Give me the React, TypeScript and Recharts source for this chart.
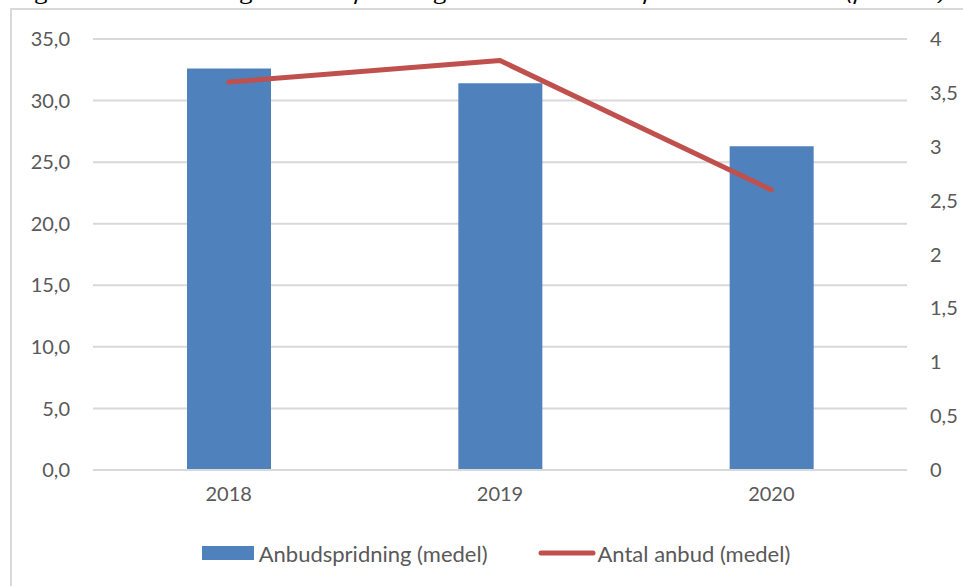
import React from 'react';
import { ComposedChart, Bar, Line, XAxis, YAxis, CartesianGrid, Legend } from 'recharts';

const categories = ['2018', '2019', '2020'];
const spreadValues = [32.6, 31.4, 26.3];
const bidValues = [3.6, 3.8, 2.6];
const leftTicks = [0, 5, 10, 15, 20, 25, 30, 35];
const rightTicks = [0, 0.5, 1, 1.5, 2, 2.5, 3, 3.5, 4];
const seriesNames = ['Anbudspridning (medel)', 'Antal anbud (medel)'];
const titleText = 'Figur 6 Genomsnittlig anbudsspridning och antal anbud per år 2018–2020 (procent)';

const data = categories.map((c, i) => ({ year: c, spread: spreadValues[i], bids: bidValues[i] }));

const FONT = 'Lato, "Open Sans", sans-serif';
const TEXT = '#595959';

const fmtLeft = (v: number) => v.toFixed(1).replace('.', ',');
const fmtRight = (v: number) => String(v).replace('.', ',');

const LegendContent = (props: any) => {
  const payload = props.payload || [];
  return (
    <div style={{ display: 'flex', justifyContent: 'center', alignItems: 'center', height: 30, fontFamily: FONT, fontSize: 22, color: TEXT }}>
      {payload.map((p: any, i: number) => (
        <div key={i} style={{ display: 'flex', alignItems: 'center', marginRight: i === 0 ? 50 : 0 }}>
          {p.type === 'rect' ? (
            <svg width={52} height={16} style={{ marginRight: 5 }}>
              <rect x={0} y={1} width={52} height={14} fill={p.color} />
            </svg>
          ) : (
            <svg width={58} height={16} style={{ marginRight: 2 }}>
              <line x1={3} y1={8} x2={55} y2={8} stroke={p.color} strokeWidth={5} strokeLinecap="round" />
            </svg>
          )}
          <span>{p.value}</span>
        </div>
      ))}
    </div>
  );
};

export default function App() {
  return (
    <div style={{ position: 'absolute', left: 0, top: 0, width: 963, height: 586, overflow: 'hidden', background: '#fff' }}>
      <svg width={963} height={20} style={{ position: 'absolute', left: 0, top: 0 }}>
        <text x={18} y={0} fontFamily='"Open Sans", sans-serif' fontStyle="italic" fontWeight={400} fontSize={18} fill="#000" textLength={928} lengthAdjust="spacingAndGlyphs">
          {titleText}
        </text>
      </svg>
      <div style={{ position: 'absolute', left: 10, top: 8, width: 1000, height: 620, border: '2px solid #D9D9D9', boxSizing: 'border-box' }} />
      <div style={{ position: 'absolute', left: 0, top: 0 }}>
        <ComposedChart
          width={963}
          height={586}
          data={data}
          margin={{ top: 39, right: 0, left: 0, bottom: 36 }}
          barCategoryGap={0}
        >
          <CartesianGrid vertical={false} stroke="#D9D9D9" strokeWidth={2} yAxisId="left" />
          <XAxis
            dataKey="year"
            height={50}
            tickSize={0}
            tickMargin={17}
            tickLine={false}
            axisLine={{ stroke: '#D9D9D9', strokeWidth: 2 }}
            tick={{ fill: TEXT, fontSize: 20, fontFamily: FONT }}
          />
          <YAxis
            yAxisId="left"
            orientation="left"
            width={93}
            domain={[0, 35]}
            ticks={leftTicks}
            tickFormatter={fmtLeft}
            tickSize={0}
            tickMargin={23}
            tickLine={false}
            axisLine={false}
            interval={0}
            tick={{ fill: TEXT, fontSize: 20, fontFamily: FONT }}
          />
          <YAxis
            yAxisId="right"
            orientation="right"
            width={56}
            domain={[0, 4]}
            ticks={rightTicks}
            tickFormatter={fmtRight}
            tickSize={0}
            tickMargin={23}
            tickLine={false}
            axisLine={false}
            interval={0}
            tick={{ fill: TEXT, fontSize: 20, fontFamily: FONT, textAnchor: 'start' }}
          />
          <Bar
            yAxisId="left"
            dataKey="spread"
            name={seriesNames[0]}
            fill="#4F81BD"
            barSize={84}
            legendType="rect"
            isAnimationActive={false}
          />
          <Line
            yAxisId="right"
            dataKey="bids"
            name={seriesNames[1]}
            stroke="#C0504D"
            strokeWidth={5}
            strokeLinecap="round"
            strokeLinejoin="round"
            dot={false}
            activeDot={false}
            legendType="line"
            isAnimationActive={false}
          />
          <Legend
            verticalAlign="bottom"
            content={<LegendContent />}
            wrapperStyle={{ left: 89, width: 814, top: 538 }}
          />
        </ComposedChart>
      </div>
    </div>
  );
}
